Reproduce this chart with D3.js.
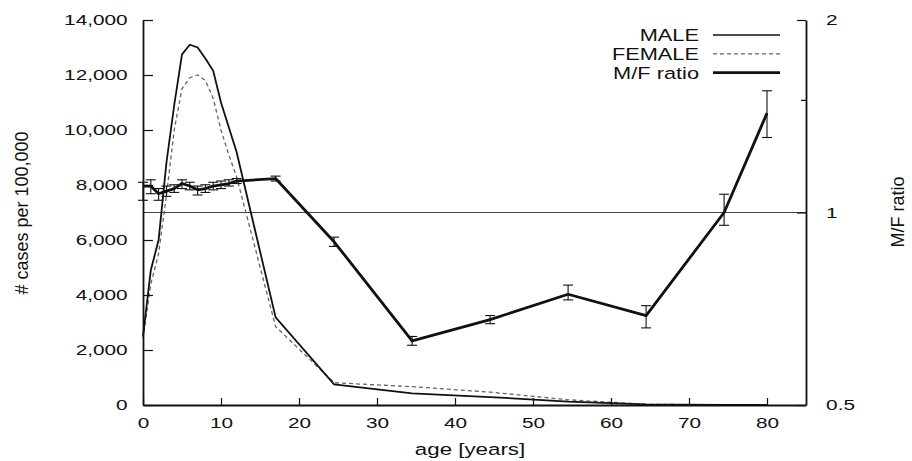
<!DOCTYPE html>
<html>
<head>
<meta charset="utf-8">
<script src="https://cdn.jsdelivr.net/npm/d3@7"></script>
<style>
  body { margin: 0; background: #fff; }
  text { font-family: "Liberation Sans", Arial, sans-serif; fill: #111; }
</style>
</head>
<body>
<div id="chart"></div>
<script>
// age groups (years)
const ages = [0, 1, 2, 3, 4, 5, 6, 7, 8, 9, 10, 11, 12, 17, 24.5, 34.5, 44.5, 54.5, 64.5, 74.5, 80];
// cases per 100,000
const male   = [2500, 4900, 6000, 8800, 10900, 12750, 13100, 13000, 12600, 12150, 11000, 10100, 9200, 3190, 752, 425, 290, 120, 20, 5, 0];
const female = [2400, 4400, 5500, 7600, 10000, 11500, 11900, 12000, 11800, 11150, 10000, 9100, 8300, 2850, 811, 665, 470, 190, 25, 5, 0];
// male / female ratio with error bars
const ratio   = [1.10, 1.10, 1.07, 1.08, 1.09, 1.11, 1.10, 1.085, 1.09, 1.10, 1.105, 1.11, 1.12, 1.13, 0.90, 0.63, 0.68, 0.745, 0.69, 1.00, 1.43];
const ratioLo = [1.045, 1.07, 1.045, 1.06, 1.075, 1.09, 1.085, 1.065, 1.075, 1.085, 1.09, 1.10, 1.11, 1.12, 0.885, 0.62, 0.67, 0.73, 0.66, 0.955, 1.31];
const ratioHi = [1.115, 1.125, 1.09, 1.10, 1.105, 1.125, 1.115, 1.10, 1.105, 1.115, 1.12, 1.125, 1.13, 1.14, 0.915, 0.64, 0.69, 0.77, 0.715, 1.068, 1.55];

const xTicks = [0, 10, 20, 30, 40, 50, 60, 70, 80];
const yTicks = [0, 2000, 4000, 6000, 8000, 10000, 12000, 14000];
const rTicks = [0.5, 1, 1.5, 2];
const legendItems = ["MALE", "FEMALE", "M/F ratio"];

const width = 912, height = 461;
const margin = {top: 20, right: 106, bottom: 56, left: 143};
const sx = 1.34; // the scanned figure is stretched horizontally

const svg = d3.select("#chart").append("svg")
    .attr("width", width)
    .attr("height", height);

const x = d3.scaleLinear().domain([0, 85]).range([margin.left, width - margin.right]);
const y = d3.scaleLinear().domain([0, 14000]).range([height - margin.bottom, margin.top]);
const yR = d3.scaleLog().domain([0.5, 2]).range([height - margin.bottom, margin.top]);

const rows = ages.map((a, i) => ({age: a, m: male[i], f: female[i], r: ratio[i], lo: ratioLo[i], hi: ratioHi[i]}));

// reference line at ratio = 1
svg.append("line")
    .attr("x1", x(0)).attr("x2", x(85))
    .attr("y1", yR(1)).attr("y2", yR(1))
    .attr("stroke", "#444").attr("stroke-width", 1);

// female (dashed)
svg.append("path")
    .datum(rows)
    .attr("fill", "none")
    .attr("stroke", "#666")
    .attr("stroke-width", 1.3)
    .attr("stroke-dasharray", "4,3")
    .attr("d", d3.line().x(d => x(d.age)).y(d => y(d.f)));

// male
svg.append("path")
    .datum(rows)
    .attr("fill", "none")
    .attr("stroke", "#111")
    .attr("stroke-width", 1.8)
    .attr("d", d3.line().x(d => x(d.age)).y(d => y(d.m)));

// ratio
svg.append("path")
    .datum(rows)
    .attr("fill", "none")
    .attr("stroke", "#111")
    .attr("stroke-width", 2.8)
    .attr("stroke-linejoin", "round")
    .attr("d", d3.line().x(d => x(d.age)).y(d => yR(d.r)));

const err = svg.append("g").attr("stroke", "#111").attr("stroke-width", 1.1)
    .selectAll("g").data(rows).join("g");
err.append("line")
    .attr("x1", d => x(d.age)).attr("x2", d => x(d.age))
    .attr("y1", d => yR(d.lo)).attr("y2", d => yR(d.hi));
err.append("line")
    .attr("x1", d => x(d.age) - 5).attr("x2", d => x(d.age) + 5)
    .attr("y1", d => yR(d.lo)).attr("y2", d => yR(d.lo));
err.append("line")
    .attr("x1", d => x(d.age) - 5).attr("x2", d => x(d.age) + 5)
    .attr("y1", d => yR(d.hi)).attr("y2", d => yR(d.hi));

// axes
function styleAxis(g, fs) {
    g.select(".domain").attr("stroke", "#111").attr("stroke-width", 1.8);
    g.selectAll(".tick line").attr("stroke", "#111").attr("stroke-width", 1.2);
    g.selectAll(".tick text")
        .attr("font-size", fs)
        .attr("font-family", "Liberation Sans, Arial, sans-serif")
        .attr("fill", "#111")
        .attr("transform", `scale(${sx},1)`);
}

svg.append("g")
    .attr("transform", `translate(${margin.left},0)`)
    .call(d3.axisLeft(y).tickValues(yTicks).tickSizeInner(-10).tickSizeOuter(0)
        .tickPadding(11.5).tickFormat(d3.format(",")))
    .call(g => styleAxis(g, 15.5));

svg.append("g")
    .attr("transform", `translate(0,${height - margin.bottom})`)
    .call(d3.axisBottom(x).tickValues(xTicks).tickSizeInner(-7).tickSizeOuter(0).tickPadding(12))
    .call(g => styleAxis(g, 15.5));

svg.append("g")
    .attr("transform", `translate(${width - margin.right},0)`)
    .call(d3.axisRight(yR).tickValues(rTicks).tickSizeInner(-9).tickSizeOuter(0)
        .tickPadding(15).tickFormat(d => d === 1.5 ? "" : d3.format("")(d)))
    .call(g => styleAxis(g, 15.5))
    .call(g => g.selectAll(".tick line").filter(d => d === 1.5).attr("x2", -5));

// axis titles
svg.append("text")
    .attr("transform", `translate(470,455) scale(${sx * 0.98},1)`)
    .attr("text-anchor", "middle")
    .attr("font-size", 17)
    .text("age [years]");

svg.append("text")
    .attr("transform", "translate(28,213) rotate(-90)")
    .attr("text-anchor", "middle")
    .attr("font-size", 18)
    .text("# cases per 100,000");

svg.append("text")
    .attr("transform", "translate(904,212) rotate(-90)")
    .attr("text-anchor", "middle")
    .attr("font-size", 18)
    .text("M/F ratio");

// legend
const legendStyles = [
    {stroke: "#111", width: 1.6, dash: null},
    {stroke: "#666", width: 1.3, dash: "4,3"},
    {stroke: "#111", width: 2.6, dash: null}
];
const legend = svg.append("g").selectAll("g").data(legendItems).join("g")
    .attr("transform", (d, i) => `translate(0,${35 + i * 18.8})`);
legend.append("text")
    .attr("transform", `translate(699,0) scale(1.32,1)`)
    .attr("text-anchor", "end")
    .attr("dy", "0.36em")
    .attr("font-size", 16.5)
    .text(d => d);
legend.append("line")
    .attr("x1", 713).attr("x2", 780)
    .attr("y1", 0).attr("y2", 0)
    .attr("stroke", (d, i) => legendStyles[i].stroke)
    .attr("stroke-width", (d, i) => legendStyles[i].width)
    .attr("stroke-dasharray", (d, i) => legendStyles[i].dash);
</script>
</body>
</html>
